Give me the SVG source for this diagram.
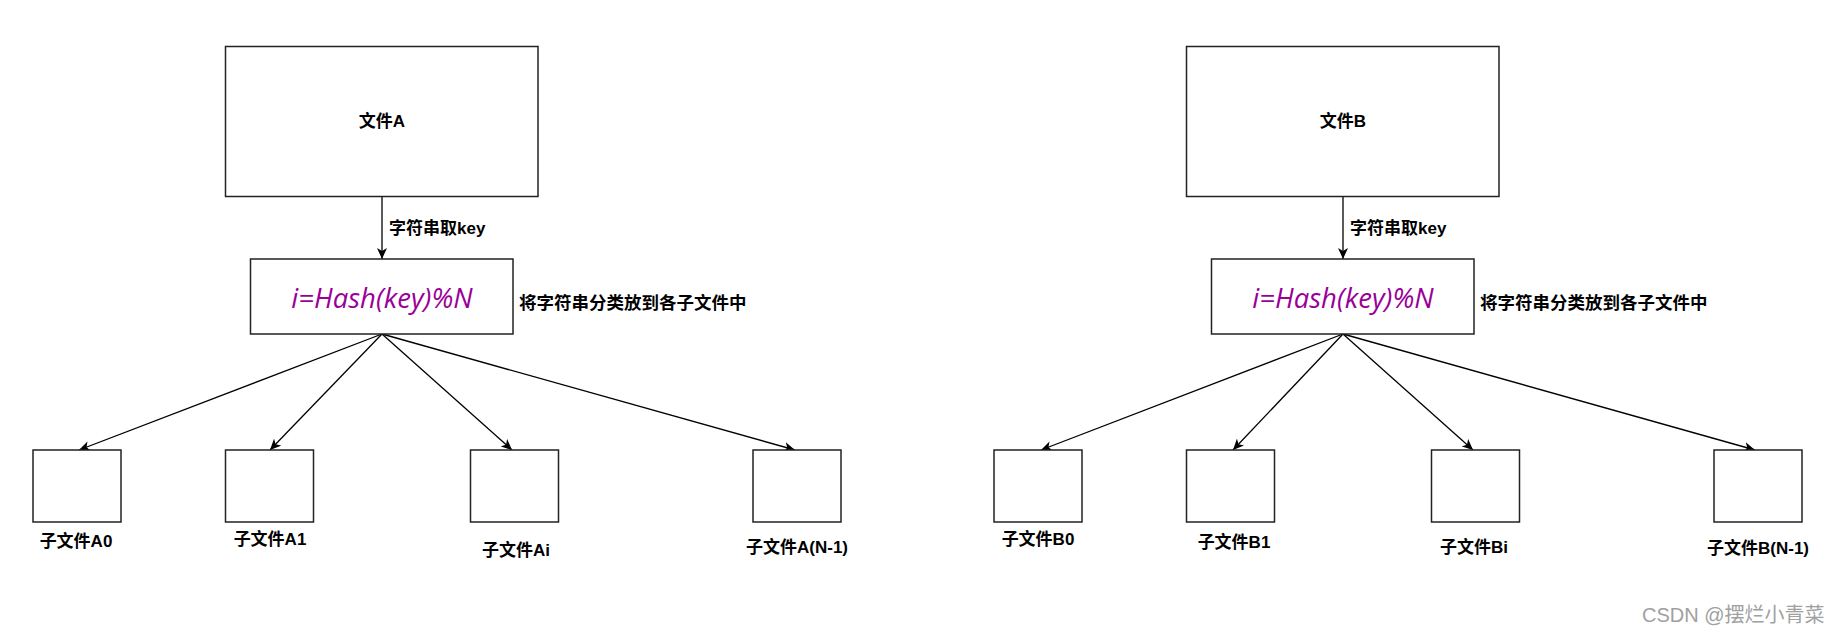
<svg xmlns="http://www.w3.org/2000/svg" width="1846" height="642" viewBox="0 0 1846 642">
<style>
.box{fill:#fff;stroke:#222;stroke-width:1.5}
.lbl{font-family:"Liberation Sans","Noto Sans CJK SC",sans-serif;font-weight:bold;font-size:17px;fill:#000;dominant-baseline:central}
.big{font-size:17.5px}
.mid{text-anchor:middle}
.hash{font-family:"Open Sans","Noto Sans",sans-serif;font-style:italic;font-size:27.5px;fill:#990099;text-anchor:middle;dominant-baseline:central}
.edge{stroke:#000;stroke-width:1.3;fill:none;marker-end:url(#arr)}
.wm{font-family:"Liberation Sans","Noto Sans CJK SC",sans-serif;font-size:20px;fill:#a0a0a0;dominant-baseline:central}
</style>
<defs>
<marker id="arr" markerUnits="userSpaceOnUse" markerWidth="12" markerHeight="10" refX="11" refY="5" orient="auto">
<path d="M0,0 L11,5 L0,10 L3,5 z" fill="#000"/>
</marker>
</defs>
<rect width="1846" height="642" fill="#fff"/>
<g id="connectors">
<line class="edge" x1="382" y1="197" x2="382" y2="259"/>
<line class="edge" x1="382" y1="334" x2="79" y2="450"/>
<line class="edge" x1="382" y1="334" x2="270" y2="450"/>
<line class="edge" x1="382" y1="334" x2="512" y2="450"/>
<line class="edge" x1="382" y1="334" x2="795" y2="450"/>
<line class="edge" x1="1343" y1="197" x2="1343" y2="259"/>
<line class="edge" x1="1343" y1="334" x2="1041" y2="450"/>
<line class="edge" x1="1343" y1="334" x2="1233" y2="450"/>
<line class="edge" x1="1343" y1="334" x2="1473" y2="450"/>
<line class="edge" x1="1343" y1="334" x2="1755" y2="450"/>
</g>
<g id="fileA"><rect class="box" x="225.5" y="46.5" width="312.5" height="150"/><text class="lbl mid" x="382" y="121">文件A</text></g>
<g id="labelKeyA"><text class="lbl" x="389" y="228">字符串取key</text></g>
<g id="hashA"><rect class="box" x="250.5" y="259" width="262.5" height="75"/><text class="hash" x="382" y="297">i=Hash(key)%N</text></g>
<g id="labelSortA"><text class="lbl big" x="519" y="303">将字符串分类放到各子文件中</text></g>
<g id="A0"><rect class="box" x="33" y="450" width="88" height="72"/><text class="lbl mid" x="76" y="541">子文件A0</text></g>
<g id="A1"><rect class="box" x="225.5" y="450" width="88" height="72"/><text class="lbl mid" x="270" y="539">子文件A1</text></g>
<g id="Ai"><rect class="box" x="470.5" y="450" width="88" height="72"/><text class="lbl mid" x="516" y="550">子文件Ai</text></g>
<g id="AN"><rect class="box" x="753" y="450" width="88" height="72"/><text class="lbl mid" x="797" y="547">子文件A(N-1)</text></g>
<g id="fileB"><rect class="box" x="1186.5" y="46.5" width="312.5" height="150"/><text class="lbl mid" x="1343" y="121">文件B</text></g>
<g id="labelKeyB"><text class="lbl" x="1350" y="228">字符串取key</text></g>
<g id="hashB"><rect class="box" x="1211.5" y="259" width="262.5" height="75"/><text class="hash" x="1343" y="297">i=Hash(key)%N</text></g>
<g id="labelSortB"><text class="lbl big" x="1480" y="303">将字符串分类放到各子文件中</text></g>
<g id="B0"><rect class="box" x="994" y="450" width="88" height="72"/><text class="lbl mid" x="1038" y="539">子文件B0</text></g>
<g id="B1"><rect class="box" x="1186.5" y="450" width="88" height="72"/><text class="lbl mid" x="1234" y="542">子文件B1</text></g>
<g id="Bi"><rect class="box" x="1431.5" y="450" width="88" height="72"/><text class="lbl mid" x="1474" y="547">子文件Bi</text></g>
<g id="BN"><rect class="box" x="1714" y="450" width="88" height="72"/><text class="lbl mid" x="1758" y="548">子文件B(N-1)</text></g>
<text class="wm" x="1642" y="615">CSDN @摆烂小青菜</text>
</svg>
